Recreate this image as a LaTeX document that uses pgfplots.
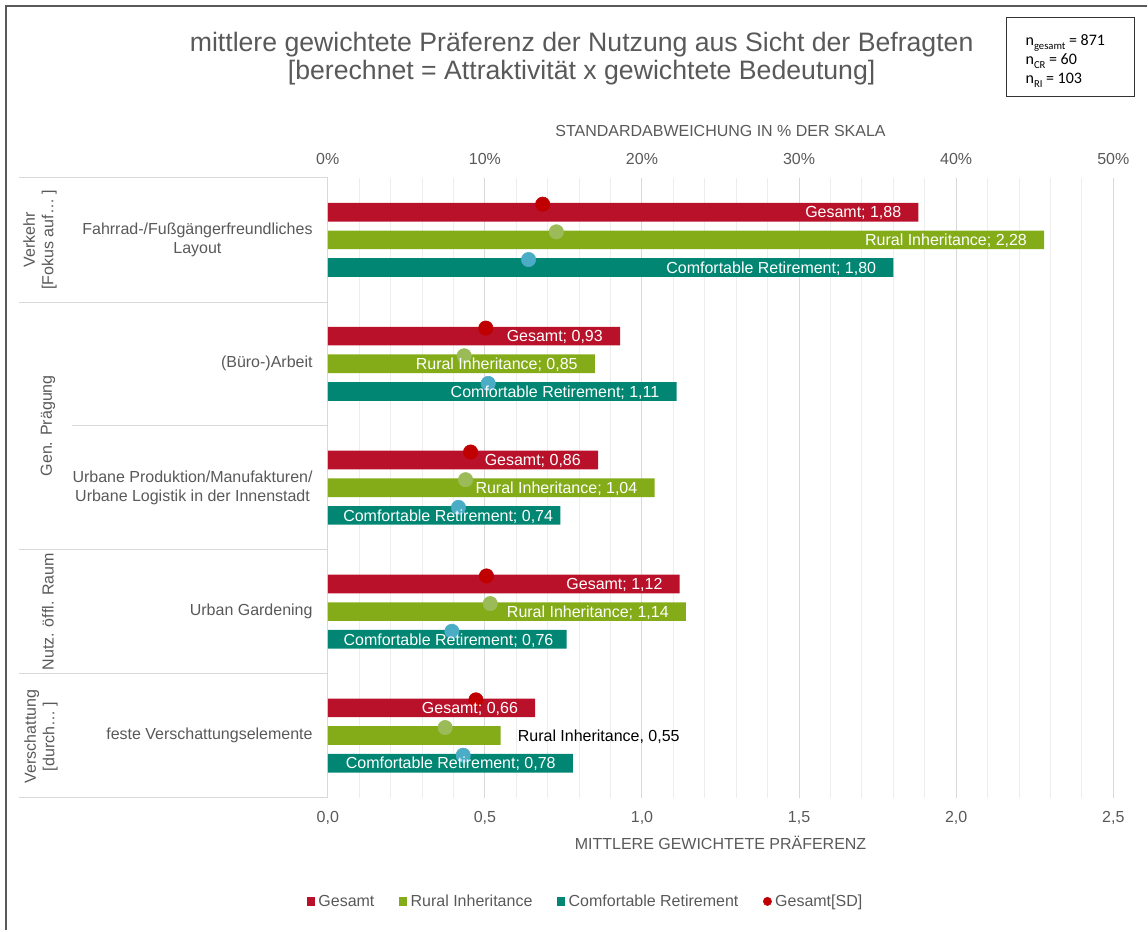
\documentclass[border=0pt]{standalone}
\usepackage{fontspec}
\setmainfont{Liberation Sans}
\newfontfamily\calibri{Carlito}
\usepackage{pgfplots}
\pgfplotsset{compat=1.18}
\usepackage{pgfplotstable}

\definecolor{cRed}{HTML}{B9112A}
\definecolor{cGreen}{HTML}{84AC19}
\definecolor{cTeal}{HTML}{008672}
\definecolor{cDotRed}{HTML}{C00000}
\definecolor{cDotGreen}{HTML}{9BBB59}
\definecolor{cDotBlue}{HTML}{4BACC6}
\definecolor{cText}{HTML}{595959}
\definecolor{cGrid}{HTML}{D9D9D9}
\definecolor{cMinor}{HTML}{EDEDED}
\definecolor{cBorder}{HTML}{595959}

% y = pixel offset from top of plot area; x = mean weighted preference; sd = SD in % of scale
\pgfplotstableread{
y     x     sd     ydot
34.3  1.88  13.68  26.3
158.3 0.93  10.06  150.3
282.3 0.86  9.09   274.3
406.3 1.12  10.10  398.3
530.3 0.66  9.43   522.3
}\gesamt
\pgfplotstableread{
y     x     sd     ydot
62    2.28  14.55  54
186   0.85  8.68   178
310   1.04  8.77   302
434   1.14  10.34  426
558   0.55  7.47   550
}\rural
\pgfplotstableread{
y     x     sd     ydot
89.7  1.80  12.78  81.7
213.7 1.11  10.21  205.7
337.7 0.74  8.32   329.7
461.7 0.76  7.90   453.7
585.7 0.78  8.62   577.7
}\comfort

\newcommand{\twelve}{\fontsize{12}{14}\selectfont}
\newcommand{\val}{\pgfmathprintnumber[fixed,fixed zerofill,precision=2,use comma,assume math mode=true]{\pgfplotspointmeta}}

\begin{document}
\begin{tikzpicture}
\begin{scope}[x=0.75pt,y=-0.75pt]
\useasboundingbox (0,0) rectangle (1148,931);
\end{scope}

% ---------- main axis: bars ----------
\begin{axis}[
  at={(246pt,-598.5pt)}, anchor=south west,
  scale only axis, width=589.5pt, height=465pt,
  xmin=0, xmax=2.5, ymin=0, ymax=620, y dir=reverse,
  axis x line*=bottom, axis y line*=left,
  x axis line style={draw=none},
  y axis line style={draw=cGrid, line width=0.75pt},
  ytick=\empty,
  xtick={0,0.5,1,1.5,2,2.5}, minor x tick num=4,
  xmajorgrids, xminorgrids,
  major grid style={draw=cGrid, line width=0.75pt},
  minor grid style={draw=cMinor, line width=0.75pt},
  major tick length=0pt, minor tick length=0pt,
  tick style={draw=none},
  xticklabel style={font=\twelve, text=cText, yshift=-6.75pt},
  /pgf/number format/.cd, assume math mode=true, use comma, fixed, fixed zerofill, precision=1,
  /pgfplots/.cd,
  xlabel={MITTLERE GEWICHTETE PRÄFERENZ},
  xlabel style={at={(axis description cs:0.5,-0.0726)}, anchor=center, font=\twelve, text=cText},
  xbar, bar width=14pt, bar shift=0pt,
  legend style={at={(0.329,-0.1677)}, anchor=center, draw=none, fill=none,
    legend columns=4, font=\twelve, text=cText,
    nodes={inner xsep=2.5pt},
    /tikz/every even column/.append style={column sep=16pt}},
]
\addplot[fill=cRed, draw=none,
  legend image code/.code={\fill[cRed] (0pt,-3.1pt) rectangle (6.2pt,3.1pt);}]
  table[x=x,y=y]{\gesamt};
\addlegendentry{Gesamt}
\addplot[fill=cGreen, draw=none,
  legend image code/.code={\fill[cGreen] (0pt,-3.1pt) rectangle (6.2pt,3.1pt);}]
  table[x=x,y=y]{\rural};
\addlegendentry{Rural Inheritance}
\addplot[fill=cTeal, draw=none,
  legend image code/.code={\fill[cTeal] (0pt,-3.1pt) rectangle (6.2pt,3.1pt);}]
  table[x=x,y=y]{\comfort};
\addlegendentry{Comfortable Retirement}
\addlegendimage{legend image code/.code={\fill[cDotRed] (3.1pt,0pt) circle (3.1pt);}}
\addlegendentry{Gesamt[SD]}
\end{axis}

% ---------- secondary axis: SD dots ----------
\begin{axis}[
  at={(246pt,-598.5pt)}, anchor=south west,
  scale only axis, width=589.5pt, height=465pt,
  xmin=0, xmax=50, ymin=0, ymax=620, y dir=reverse,
  axis x line*=top, axis y line=none,
  x axis line style={draw=none},
  ytick=\empty,
  xtick={0,10,20,30,40,50},
  major tick length=0pt, tick style={draw=none},
  /pgf/number format/assume math mode=true,
  xticklabel={\pgfmathprintnumber{\tick}\%},
  xticklabel style={font=\twelve, text=cText, yshift=6.5pt},
  xlabel={STANDARDABWEICHUNG IN \% DER SKALA},
  xlabel style={at={(axis description cs:0.5,1.0758)}, anchor=center, font=\twelve, text=cText},
]
\addplot[only marks, mark=*, mark size=5.4pt, color=cDotRed] table[x=sd,y=ydot]{\gesamt};
\addplot[only marks, mark=*, mark size=5.4pt, color=cDotGreen] table[x=sd,y=ydot]{\rural};
\addplot[only marks, mark=*, mark size=5.4pt, color=cDotBlue] table[x=sd,y=ydot]{\comfort};
\end{axis}

% ---------- label axis: data labels on top ----------
\begin{axis}[
  at={(246pt,-598.5pt)}, anchor=south west,
  scale only axis, width=589.5pt, height=465pt,
  xmin=0, xmax=2.5, ymin=0, ymax=620, y dir=reverse,
  hide axis,
  every node near coord/.append style={font=\twelve, inner sep=0pt, text height=8.6pt, text depth=0pt},
]
\addplot[draw=none, mark=none, point meta=x,
  nodes near coords={Gesamt; \val},
  every node near coord/.append style={anchor=east, xshift=-12.75pt, text=white}]
  table[x=x,y=y]{\gesamt};
\addplot[draw=none, mark=none, point meta=x,
  skip coords between index={4}{5},
  nodes near coords={Rural Inheritance; \val},
  every node near coord/.append style={anchor=east, xshift=-12.75pt, text=white}]
  table[x=x,y=y]{\rural};
\addplot[draw=none, mark=none, point meta=x,
  nodes near coords={Rural Inheritance, \val},
  every node near coord/.append style={anchor=west, xshift=12.75pt, text=black}]
  coordinates {(0.55,558)};
\addplot[draw=none, mark=none, point meta=x,
  skip coords between index={2}{4},
  nodes near coords={Comfortable Retirement; \val},
  every node near coord/.append style={anchor=east, xshift=-12.75pt, text=white}]
  table[x=x,y=y]{\comfort};
\addplot[draw=none, mark=none, point meta=x,
  nodes near coords={Comfortable Retirement; \val},
  every node near coord/.append style={anchor=east, xshift=-5.25pt, text=white}]
  coordinates {(0.74,337.7)};
\addplot[draw=none, mark=none, point meta=x,
  nodes near coords={Comfortable Retirement; \val},
  every node near coord/.append style={anchor=east, xshift=-9.75pt, text=white}]
  coordinates {(0.76,461.7)};
\end{axis}

% ---------- frame, titles, category area ----------
\begin{scope}[x=0.75pt,y=-0.75pt]
\draw[cBorder, line width=1.1pt] (6,931) -- (6,6) -- (1148,6);

\node[font=\fontsize{20}{24}\selectfont, text=cText] at (582,44.5)
  {mittlere gewichtete Präferenz der Nutzung aus Sicht der Befragten};
\node[font=\fontsize{20}{24}\selectfont, text=cText] at (582,73)
  {{[}berechnet = Attraktivität x gewichtete Bedeutung{]}};

\draw[black!80, line width=0.75pt] (1007,18) rectangle (1135,97);
\begin{scope}[every node/.style={anchor=base west, inner sep=0pt, font=\calibri\fontsize{12}{14}\selectfont}]
\node at (1026,46) {n\raisebox{-0.22em}{\fontsize{8}{9}\selectfont gesamt} = 871};
\node at (1026,65) {n\raisebox{-0.22em}{\fontsize{8}{9}\selectfont CR} = 60};
\node at (1026,84) {n\raisebox{-0.22em}{\fontsize{8}{9}\selectfont RI} = 103};
\end{scope}

\draw[cGrid, line width=0.75pt]
  (19,178) -- (328,178)
  (19,303) -- (328,303)
  (72,426) -- (328,426)
  (19,550) -- (328,550)
  (19,674) -- (328,674)
  (19,798) -- (328,798);

\begin{scope}[every node/.style={font=\fontsize{12}{13.8}\selectfont, text=cText, inner sep=0pt, align=center}]
\node[anchor=east] at (313,240) {Fahrrad-/Fußgängerfreundliches\\Layout};
\node[anchor=east] at (313,364) {(Büro-)Arbeit};
\node[anchor=east] at (313,488) {Urbane Produktion/Manufakturen/\\Urbane Logistik in der Innenstadt};
\node[anchor=east] at (313,612) {Urban Gardening};
\node[anchor=east] at (313,736) {feste Verschattungselemente};

\node[rotate=90] at (40,240) {Verkehr\\{[}Fokus auf… {]}};
\node[rotate=90] at (48,426) {Gen. Prägung};
\node[rotate=90] at (48,612) {Nutz. öffl. Raum};
\node[rotate=90] at (41,737) {Verschattung\\{[}durch… {]}};
\end{scope}
\end{scope}
\end{tikzpicture}
\end{document}
